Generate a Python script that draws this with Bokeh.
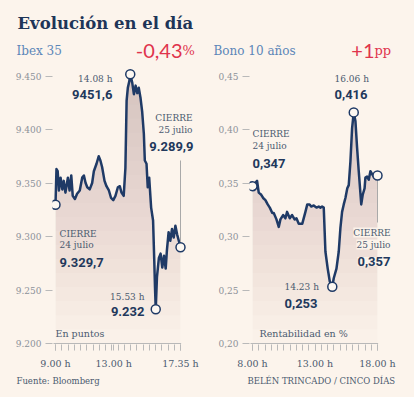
import numpy as np
from bokeh.plotting import figure
from bokeh.models import Label, FixedTicker, Range1d, CustomJSTickFormatter
from bokeh.layouts import row, column
from bokeh.embed import file_html
from bokeh.resources import INLINE

# ---------------- data ----------------
# Ibex 35: minutes after 9:00 and index points
ibex_minutes = [0, 4, 9, 14, 21, 28, 34, 41, 51, 58,
                65, 71, 80, 89, 100, 110, 117, 124, 131, 141,
                151, 158, 169, 178, 185, 192, 202, 210, 220, 229,
                238, 247, 257, 265, 272, 281, 288, 293, 298, 304,
                308, 316, 323, 330, 337, 343, 350, 357, 364, 368,
                375, 380, 386, 394, 402, 407, 410, 413, 418, 426,
                433, 440, 447, 454, 459, 466, 473, 480, 487, 494,
                501, 508, 515]
ibex_values = [9329.7, 9363, 9361, 9343, 9355, 9344, 9352, 9341, 9355, 9343,
               9357, 9338, 9335, 9340, 9343, 9355, 9357, 9350, 9346, 9344,
               9350, 9361, 9368, 9375, 9371, 9365, 9352, 9347, 9343, 9336,
               9334, 9338, 9346, 9347, 9341, 9338, 9364, 9427, 9439, 9445,
               9451.6, 9444, 9433, 9441, 9434, 9439, 9430, 9417, 9396, 9371,
               9368, 9346, 9355, 9327, 9315, 9277, 9252, 9232, 9262, 9280,
               9284, 9271, 9282, 9270, 9287, 9304, 9296, 9307, 9299, 9310,
               9302, 9296, 9289.9]

# Bono 10 años: minutes after 8:00 and yield in %
bono_minutes = [0, 22, 30, 42, 51, 62, 73, 83, 95, 102,
                115, 126, 134, 147, 158, 166, 179, 190, 202, 211,
                222, 239, 254, 263, 274, 282, 294, 307, 318, 326,
                334, 342, 350, 361, 371, 383, 390, 403, 414, 422,
                430, 438, 446, 455, 462, 470, 478, 486, 494, 502,
                510, 522, 529, 538, 542, 550, 558, 566, 575, 582,
                600]
bono_values = [0.347, 0.352, 0.341, 0.339, 0.336, 0.334, 0.330, 0.327, 0.322, 0.322,
               0.316, 0.309, 0.316, 0.320, 0.317, 0.323, 0.317, 0.320, 0.316, 0.317,
               0.312, 0.312, 0.323, 0.330, 0.330, 0.328, 0.329, 0.327, 0.328, 0.327,
               0.328, 0.327, 0.286, 0.270, 0.258, 0.253, 0.261, 0.270, 0.286, 0.308,
               0.323, 0.330, 0.336, 0.345, 0.348, 0.370, 0.401, 0.416, 0.408, 0.383,
               0.361, 0.330, 0.339, 0.345, 0.355, 0.356, 0.353, 0.361, 0.358, 0.356,
               0.357]

ibex_yticks = [9200, 9250, 9300, 9350, 9400, 9450]
bono_yticks = [0.20, 0.25, 0.30, 0.35, 0.40, 0.45]
ibex_xticks = [0, 240, 515]
ibex_xtick_labels = ["9.00 h", "13.00 h", "17.35 h"]
bono_xticks = [0, 300, 600]
bono_xtick_labels = ["8.00 h", "13.00 h", "18.00 h"]

# ---------------- style ----------------
BG = "#fcf4ec"
NAVY = "#1f3a66"
NUM = "#22385c"
LBL = "#4b5a6f"
TICK = "#8c9199"
HEAD = "#5b86b8"
RED = "#e0344c"
TITLE = "#1e3558"
AXIS = "#b9b9b9"
SERIF = "DejaVu Serif"

PAGE_W, PAGE_H = 414, 397
HEAD_H, FOOT_H = 62, 25
CHART_W, CHART_H = 207, PAGE_H - HEAD_H - FOOT_H   # charts occupy page y 62..372
FRAME_BOT = 344                                     # page y of frame bottom
ZERO_PAGE = 343                                     # page y of lowest tick
PX_PER_UNIT_Y = 1.07                                # px per index point
BASE_SHIFT = 4                                      # baseline correction (px)


def add_label(p, fx, fy, px, py, text, size, color=LBL, font=SERIF,
              style="normal", align="left", bg=None):
    kw = {}
    if bg is not None:
        kw = dict(background_fill_color=bg, background_fill_alpha=0.92)
    p.add_layout(Label(x=fx(px), y=fy(py - BASE_SHIFT), text=text, text_font=font,
                       text_font_size=f"{size}px", text_color=color,
                       text_font_style=style, text_align=align,
                       text_baseline="alphabetic", **kw))


def text_panel(height, y_top):
    p = figure(width=PAGE_W, height=height, title=None,
               x_range=Range1d(0, PAGE_W), y_range=Range1d(y_top + height, y_top),
               output_backend="svg", toolbar_location=None,
               x_axis_location=None, y_axis_location=None,
               min_border=0, background_fill_color=BG, border_fill_color=BG,
               outline_line_color=None)
    p.xgrid.visible = False
    p.ygrid.visible = False
    return p


def make_chart(xr, yr, left_border):
    p = figure(width=CHART_W, height=CHART_H, x_range=xr, y_range=yr, title=None,
               output_backend="svg", toolbar_location=None,
               min_border_left=left_border, min_border_right=0,
               min_border_top=0, min_border_bottom=HEAD_H + CHART_H - FRAME_BOT,
               background_fill_color=BG, border_fill_color=BG,
               outline_line_color=None)
    p.xgrid.visible = False
    p.ygrid.visible = False
    ya = p.yaxis[0]
    ya.axis_line_color = None
    ya.major_tick_line_color = AXIS
    ya.major_tick_out = 7
    ya.major_tick_in = 0
    ya.minor_tick_line_color = None
    ya.major_label_standoff = 4
    ya.major_label_text_font = SERIF
    ya.major_label_text_font_size = "9px"
    ya.major_label_text_color = TICK
    xa = p.xaxis[0]
    xa.axis_line_color = None
    xa.major_tick_line_color = AXIS
    xa.minor_tick_line_color = AXIS
    xa.major_tick_out = 6
    xa.major_tick_in = 0
    xa.minor_tick_out = 6
    xa.minor_tick_in = 0
    xa.major_label_standoff = 7
    xa.major_label_text_font = SERIF
    xa.major_label_text_font_size = "9.5px"
    xa.major_label_text_color = LBL
    return p


def draw_series(p, xs, ys, y_lo, y_hi):
    xs = np.asarray(xs, dtype=float)
    ys = np.asarray(ys, dtype=float)
    span = xs[-1] - xs[0]
    # axis baseline along the data span
    p.segment(x0=[xs[0] - span * 0.016], y0=[y_lo], x1=[xs[-1] + span * 0.005], y1=[y_lo],
              line_color=AXIS, line_width=1)
    # gradient-like fill under the line (darker towards the top)
    levels = np.linspace(y_lo, y_hi, 21)[:-1]
    for L in levels:
        p.varea(x=xs, y1=np.full_like(ys, L), y2=np.maximum(ys, L),
                fill_color="#a8989a", fill_alpha=0.027)
    p.line(xs, ys, line_color=NAVY, line_width=2.5, line_join="round")
    return xs, ys


def mark_points(p, xs, ys):
    idx = [0, int(np.argmax(ys)), int(np.argmin(ys)), len(ys) - 1]
    p.scatter(xs[idx], ys[idx], size=9, marker="circle",
              fill_color="#fdf8f2", line_color=NAVY, line_width=1.5)


# ---------------- header ----------------
head = text_panel(HEAD_H, 0)
idf = lambda v: v
add_label(head, idf, idf, 17, 27, "Evolución en el día", 16.5, TITLE, style="bold")
add_label(head, idf, idf, 16, 54, "Ibex 35", 12, HEAD)
add_label(head, idf, idf, 182, 54, "-0,43", 20, RED, font="Lato", align="right")
add_label(head, idf, idf, 182, 54, "%", 13, RED)
add_label(head, idf, idf, 213, 54, "Bono 10 años", 12, HEAD)
add_label(head, idf, idf, 374, 54, "+1", 20, RED, font="Lato", align="right")
add_label(head, idf, idf, 374, 54, "pp", 13, RED)

# ---------------- Ibex 35 ----------------
sx_l = 125.0 / ibex_minutes[-1]
fx_l = lambda px: (px - 55) / sx_l
fy_l = lambda py: 9200 + (ZERO_PAGE - py) / PX_PER_UNIT_Y
p1 = make_chart(Range1d(fx_l(52), fx_l(207)), Range1d(fy_l(FRAME_BOT), fy_l(HEAD_H)), 52)
p1.yaxis[0].ticker = FixedTicker(ticks=ibex_yticks)
p1.yaxis[0].formatter = CustomJSTickFormatter(code="return (tick/1000).toFixed(3);")
p1.xaxis[0].ticker = FixedTicker(ticks=ibex_xticks,
                                 minor_ticks=list(np.linspace(0, ibex_minutes[-1], 21)))
p1.xaxis[0].major_label_overrides = dict(zip(ibex_xticks, ibex_xtick_labels))

xs1, ys1 = draw_series(p1, ibex_minutes, ibex_values, ibex_yticks[0], fy_l(HEAD_H))
p1.segment(x0=[xs1[-1]], y0=[ys1[-1]], x1=[xs1[-1]], y1=[fy_l(160)],
           line_color="#a9a9a9", line_width=1)
mark_points(p1, xs1, ys1)

add_label(p1, fx_l, fy_l, 112, 82, "14.08 h", 9, align="right")
add_label(p1, fx_l, fy_l, 112, 98, "9451,6", 13, NUM, font="Roboto", style="bold", align="right")
add_label(p1, fx_l, fy_l, 192, 121, "CIERRE", 9, align="right")
add_label(p1, fx_l, fy_l, 192, 133, "25 julio", 9, align="right")
add_label(p1, fx_l, fy_l, 193, 150, "9.289,9", 13, NUM, font="Roboto", style="bold", align="right")
add_label(p1, fx_l, fy_l, 59, 237, "CIERRE", 9)
add_label(p1, fx_l, fy_l, 59, 248, "24 julio", 9)
add_label(p1, fx_l, fy_l, 59, 266, "9.329,7", 13, NUM, font="Roboto", style="bold")
add_label(p1, fx_l, fy_l, 144, 300, "15.53 h", 9, align="right")
add_label(p1, fx_l, fy_l, 144, 315, "9.232", 13, NUM, font="Roboto", style="bold", align="right")
add_label(p1, fx_l, fy_l, 55, 337, "En puntos", 9.5)

# ---------------- Bono 10 años ----------------
sx_r = 125.0 / bono_minutes[-1]
fx_r = lambda px: (px - 252) / sx_r
fy_r = lambda py: 0.20 + (ZERO_PAGE - py) / (PX_PER_UNIT_Y * 1000)
p2 = make_chart(Range1d(fx_r(249), fx_r(414)), Range1d(fy_r(FRAME_BOT), fy_r(HEAD_H)), 42)
p2.yaxis[0].ticker = FixedTicker(ticks=bono_yticks)
p2.yaxis[0].formatter = CustomJSTickFormatter(code="return tick.toFixed(2).replace('.', ',');")
p2.xaxis[0].ticker = FixedTicker(ticks=bono_xticks,
                                 minor_ticks=list(np.linspace(0, bono_minutes[-1], 21)))
p2.xaxis[0].major_label_overrides = dict(zip(bono_xticks, bono_xtick_labels))

xs2, ys2 = draw_series(p2, bono_minutes, bono_values, bono_yticks[0], fy_r(HEAD_H))
p2.segment(x0=[xs2[-1]], y0=[ys2[-1]], x1=[xs2[-1]], y1=[fy_r(222)],
           line_color="#a9a9a9", line_width=1)
mark_points(p2, xs2, ys2)

add_label(p2, fx_r, fy_r, 334, 82, "16.06 h", 9)
add_label(p2, fx_r, fy_r, 334, 98, "0,416", 13, NUM, font="Roboto", style="bold")
add_label(p2, fx_r, fy_r, 252, 137, "CIERRE", 9)
add_label(p2, fx_r, fy_r, 252, 149, "24 julio", 9)
add_label(p2, fx_r, fy_r, 252, 167, "0,347", 13, NUM, font="Roboto", style="bold")
add_label(p2, fx_r, fy_r, 390, 236, "CIERRE", 9, align="right", bg=BG)
add_label(p2, fx_r, fy_r, 390, 248, "25 julio", 9, align="right", bg=BG)
add_label(p2, fx_r, fy_r, 390, 265, "0,357", 13, NUM, font="Roboto", style="bold", align="right", bg=BG)
add_label(p2, fx_r, fy_r, 284, 290, "14.23 h", 9)
add_label(p2, fx_r, fy_r, 284, 307, "0,253", 13, NUM, font="Roboto", style="bold")
add_label(p2, fx_r, fy_r, 259, 337, "Rentabilidad en %", 9.5)

# ---------------- footer ----------------
foot = text_panel(FOOT_H, PAGE_H - FOOT_H)
add_label(foot, idf, idf, 16, 384, "Fuente: Bloomberg", 8.5)
add_label(foot, idf, idf, 247, 384, "BELÉN TRINCADO / CINCO DÍAS", 8.5)

layout = column(head, row(p1, p2), foot)
html = file_html(layout, INLINE, title="Evolución en el día")
html = html.replace("</head>", "<style>html,body{background:%s;}</style></head>" % BG, 1)
open("out.html", "w").write(html)
